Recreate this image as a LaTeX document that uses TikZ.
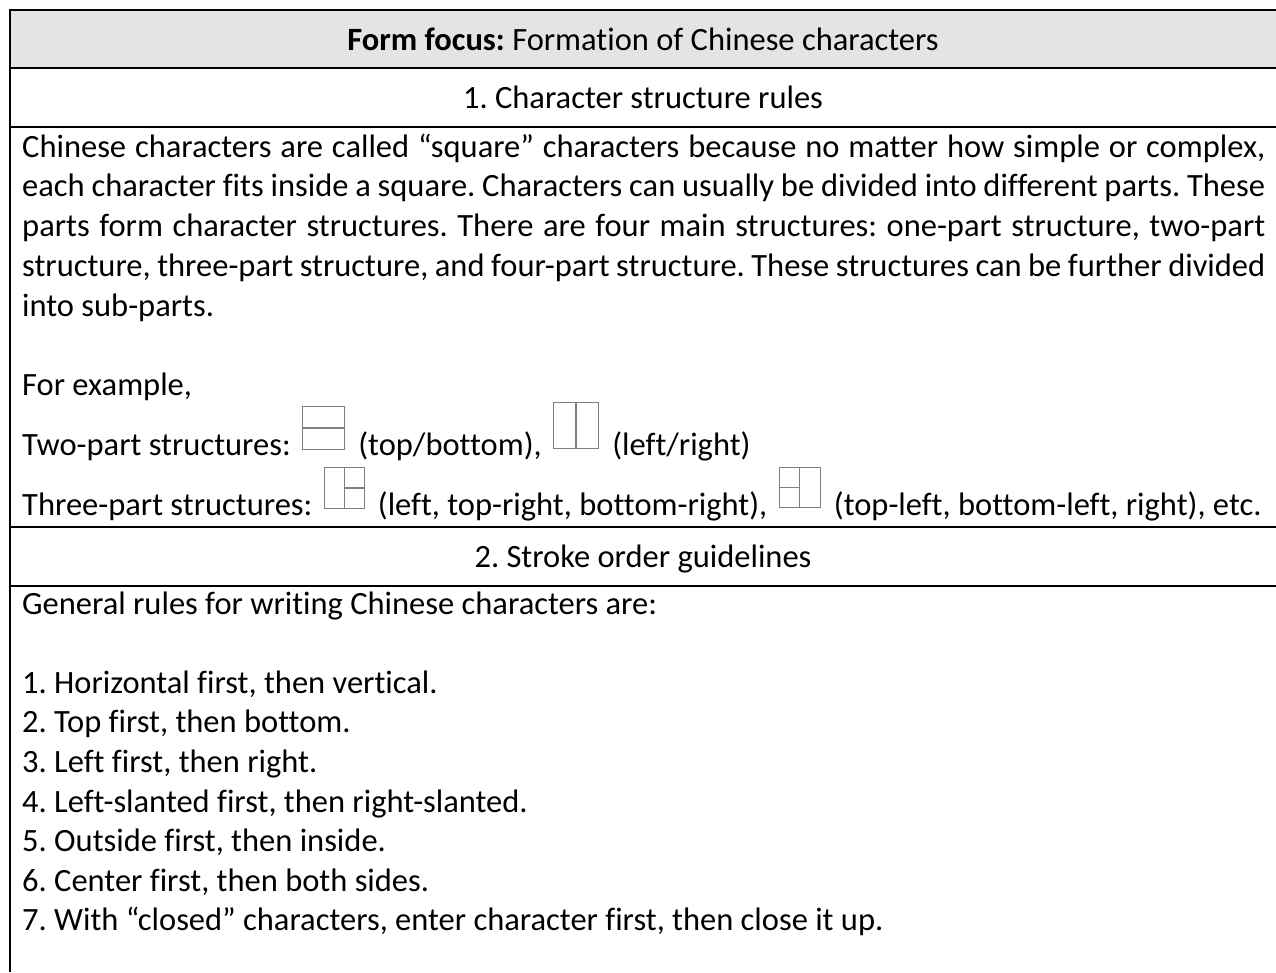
\documentclass[tikz,border=0pt]{standalone}
\usepackage{fontspec}
\setmainfont[Ligatures={NoCommon}]{Carlito}
\usetikzlibrary{positioning, calc}
\definecolor{hdrgray}{RGB}{228, 228, 228}
\definecolor{boxgray}{RGB}{128, 128, 128}
\newcommand{\bodysize}{\fontsize{32.5}{39.7}\selectfont}
\frenchspacing

\begin{document}
\begin{tikzpicture}[x=1pt, y=-1pt,
    rule/.style={line width=2.2pt},
    txt/.style={inner sep=0pt, font=\bodysize, anchor=base west},
    ctxt/.style={inner sep=0pt, font=\bodysize, anchor=base},
    cellbox/.style={draw=boxgray, line width=1.2pt, inner sep=0pt, anchor=south west},
    divider/.style={draw=boxgray, line width=1.2pt}
  ]
  \useasboundingbox (0,0) rectangle (1276,972);

  % table frame
  \fill[hdrgray] (10,10) rectangle (1276,68);
  \draw[rule] (1276,10) -- (10,10) -- (10,972);
  \foreach \y in {68,127,527,586}
    \draw[rule] (10,\y) -- (1276,\y);

  \node[ctxt] (title) at (643,50) {\textbf{Form focus:} Formation of Chinese characters};
  \node[ctxt] (sec1) at (643,108) {1. Character structure rules};
  \node[ctxt] (sec2) at (643,567) {2. Stroke order guidelines};

  % paragraph, justified line by line
  \foreach \i/\txt in {
      0/{Chinese characters are called “square” characters because no matter how simple or complex,},
      1/{each character fits inside a square. Characters can usually be divided into different parts. These},
      2/{parts form character structures. There are four main structures: one-part structure, two-part},
      3/{structure, three-part structure, and four-part structure. These structures can be further divided}}
    \node[txt] (par\i) at (22,{157+39.7*\i}) {\makebox[1243pt][s]{\txt}};
  \node[txt] (par4) at (22,316) {into sub-parts.};
  \node[txt] (ex) at (22,395) {For example,};

  % two-part structures
  \node[txt] (two) at (22,455) {Two-part structures:};
  \node[cellbox, minimum width=42pt, minimum height=43pt] (tb) at ($(two.base east)+(11,-5)$) {};
  \draw[divider] (tb.west) -- (tb.east);
  \node[txt] (tbl) at ($(tb.east |- two.base)+(13,0)$) {(top/bottom),};
  \node[cellbox, minimum width=45pt, minimum height=46pt] (lr) at ($(tbl.base east)+(11,-6)$) {};
  \draw[divider] (lr.north) -- (lr.south);
  \node[txt] (lrl) at ($(lr.east |- two.base)+(13,0)$) {(left/right)};

  % three-part structures
  \node[txt] (three) at (22,515) {Three-part structures:};
  \node[cellbox, minimum width=40pt, minimum height=41pt] (ltr) at ($(three.base east)+(11,-6)$) {};
  \draw[divider] (ltr.north) -- (ltr.south);
  \draw[divider] (ltr.center) -- (ltr.east);
  \node[txt] (ltrl) at ($(ltr.east |- three.base)+(13,0)$) {(left, top-right, bottom-right),};
  \node[cellbox, minimum width=41pt, minimum height=40pt] (tlr) at ($(ltrl.base east)+(11,-7)$) {};
  \draw[divider] (tlr.north) -- (tlr.south);
  \draw[divider] (tlr.west) -- (tlr.center);
  \node[txt] (tlrl) at ($(tlr.east |- three.base)+(13,0)$) {(top-left, bottom-left, right), etc.};

  % stroke order list
  \node[txt] (gen) at (22,614) {General rules for writing Chinese characters are:};
  \foreach \i/\txt in {
      1/{Horizontal first, then vertical.},
      2/{Top first, then bottom.},
      3/{Left first, then right.},
      4/{Left-slanted first, then right-slanted.},
      5/{Outside first, then inside.},
      6/{Center first, then both sides.},
      7/{With “closed” characters, enter character first, then close it up.}}
    \node[txt] (item\i) at (22,{614+39.6*(\i+1)}) {\i. \txt};

\end{tikzpicture}
\end{document}
